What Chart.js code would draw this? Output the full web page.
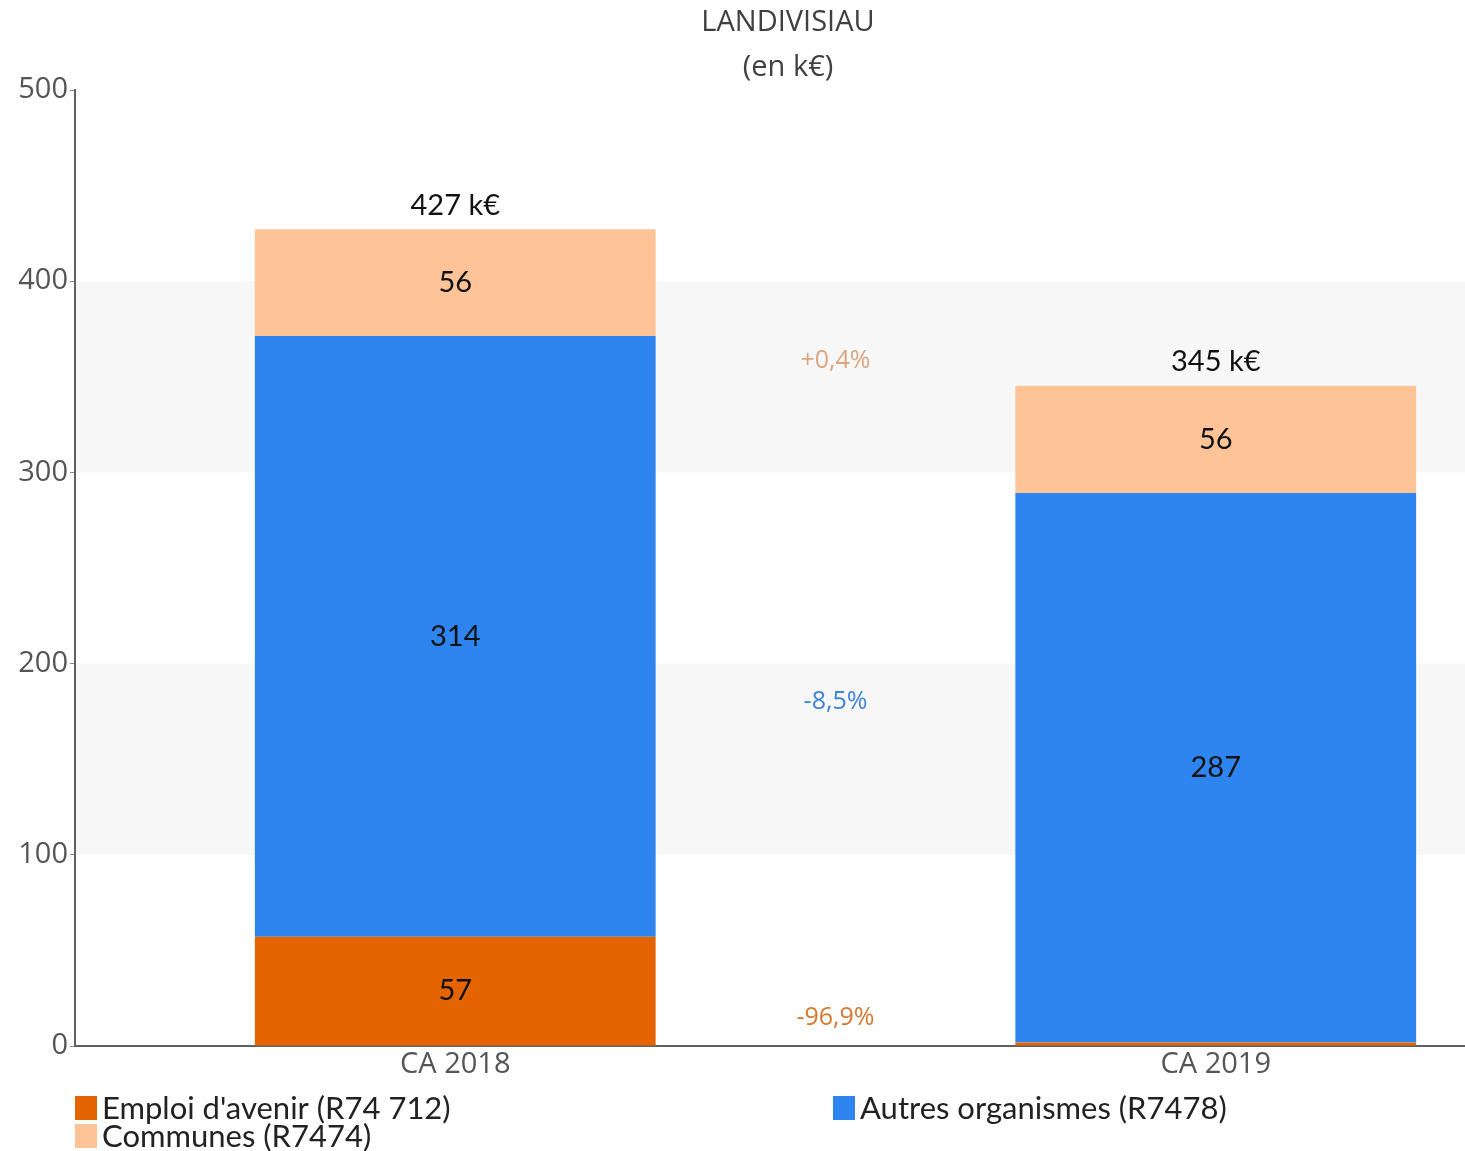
<!DOCTYPE html>
<html>
<head>
<meta charset="utf-8">
<script src="https://cdn.jsdelivr.net/npm/chart.js@4.4.1/dist/chart.umd.min.js"></script>
<style>
  html, body { margin: 0; padding: 0; background: #fff; overflow: hidden; }
</style>
</head>
<body>
<canvas id="myChart" width="1596" height="1151"></canvas>
<script>
// values (k€)
const categories = ['CA 2018', 'CA 2019'];
const emploiValues = [57.2, 1.77];
const autresValues = [314.1, 287.4];
const communesValues = [55.9, 56.1];
const totalLabels = ['427 k€', '345 k€'];
const changeLabels = ['-96,9%', '-8,5%', '+0,4%'];
const yTicks = [0, 100, 200, 300, 400, 500];

const seriesNames = ['Emploi d\'avenir (R74 712)', 'Autres organismes (R7478)', 'Communes (R7474)'];
const seriesColors = ['#E36400', '#2F85EF', '#FFC398'];
const changeColors = ['#D9782F', '#3F84DA', '#DAA680'];

// light bands behind the bars
const bandsPlugin = {
  id: 'bands',
  beforeDraw(chart) {
    const { ctx, chartArea, scales: { y } } = chart;
    ctx.save();
    ctx.fillStyle = '#F7F7F7';
    [[100, 200], [300, 400]].forEach(([a, b]) => {
      const top = y.getPixelForValue(b);
      const bot = y.getPixelForValue(a);
      ctx.fillRect(chartArea.left, top, chartArea.right - chartArea.left, bot - top);
    });
    ctx.restore();
  }
};

// title, value labels, change labels, legend
const labelsPlugin = {
  id: 'labels',
  afterDraw(chart) {
    const { ctx, scales: { x, y } } = chart;
    ctx.save();
    ctx.textAlign = 'center';
    ctx.textBaseline = 'middle';

    // title
    ctx.fillStyle = '#404040';
    ctx.font = '29px "Open Sans"';
    ctx.fillText('LANDIVISIAU', 788, 23);
    ctx.fillText('(en k€)', 788, 68);

    // values inside segments
    ctx.fillStyle = '#111';
    ctx.font = '29px Lato';
    chart.data.datasets.forEach((ds, i) => {
      const meta = chart.getDatasetMeta(i);
      meta.data.forEach((bar, j) => {
        const v = ds.data[j];
        if (v < 10) return;
        ctx.fillText(String(Math.round(v)), bar.x, (bar.y + bar.base) / 2);
      });
    });

    // totals above the bars
    const lastMeta = chart.getDatasetMeta(chart.data.datasets.length - 1);
    lastMeta.data.forEach((bar, j) => {
      ctx.fillText(totalLabels[j], bar.x, bar.y - 24);
    });

    // change between years, midway between bars
    ctx.font = '25px "Open Sans"';
    const xMid = (x.getPixelForValue(0) + x.getPixelForValue(1)) / 2;
    const series = [emploiValues, autresValues, communesValues];
    series.forEach((vals, i) => {
      const mids = vals.map((v, j) => {
        let below = 0;
        for (let k = 0; k < i; k++) below += series[k][j];
        return below + v / 2;
      });
      const yPix = y.getPixelForValue((mids[0] + mids[1]) / 2);
      ctx.fillStyle = changeColors[i];
      ctx.fillText(changeLabels[i], xMid, yPix);
    });

    // legend, two columns
    ctx.textAlign = 'left';
    ctx.font = '31px Lato';
    const legendPos = [[75, 1108], [833, 1108], [75, 1136]];
    seriesNames.forEach((name, i) => {
      const [lx, ly] = legendPos[i];
      ctx.fillStyle = seriesColors[i];
      ctx.fillRect(lx, ly - 12, 22, 24);
      ctx.fillStyle = '#222';
      ctx.fillText(name, lx + 27, ly + 1);
    });
    ctx.restore();
  }
};

function drawChart() {
  const ctx = document.getElementById('myChart').getContext('2d');
  const myChart = new Chart(ctx, {
    type: 'bar',
    data: {
      labels: categories,
      datasets: [
        { label: seriesNames[0], data: emploiValues, backgroundColor: seriesColors[0] },
        { label: seriesNames[1], data: autresValues, backgroundColor: seriesColors[1] },
        { label: seriesNames[2], data: communesValues, backgroundColor: seriesColors[2] }
      ].map(ds => Object.assign(ds, { categoryPercentage: 1, barPercentage: 0.527, borderWidth: 0 }))
    },
    options: {
      responsive: false,
      animation: false,
      devicePixelRatio: 1,
      layout: { padding: { top: 90, left: 0, right: 0, bottom: 0 } },
      plugins: {
        legend: { display: false },
        tooltip: { enabled: false }
      },
      scales: {
        x: {
          stacked: true,
          grid: { display: false },
          border: { display: true, color: '#606060', width: 2 },
          ticks: { color: '#555', font: { family: 'Open Sans', size: 29 }, padding: -7 },
          afterFit(scale) { scale.height = 105; }
        },
        y: {
          stacked: true,
          min: 0,
          max: 500,
          afterBuildTicks(scale) { scale.ticks = yTicks.map(v => ({ value: v })); },
          grid: { drawOnChartArea: false, drawTicks: true, tickLength: 5, color: '#888' },
          border: { display: true, color: '#606060', width: 2 },
          ticks: { color: '#555', font: { family: 'Open Sans', size: 29 }, padding: 2 },
          afterFit(scale) { scale.width = 75; }
        }
      }
    },
    plugins: [bandsPlugin, labelsPlugin]
  });
}

// make sure the fonts are ready before drawing on the canvas
Promise.all([
  document.fonts.load('29px "Open Sans"'),
  document.fonts.load('29px Lato')
]).then(drawChart, drawChart);
</script>
</body>
</html>
